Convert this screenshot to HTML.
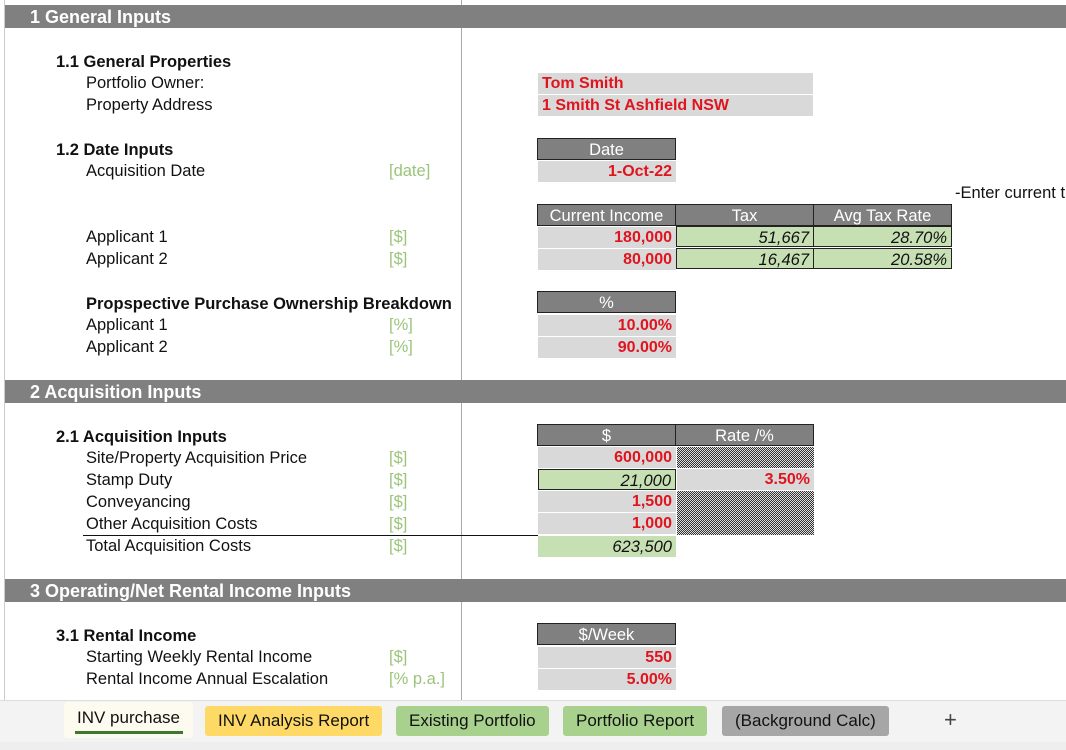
<!DOCTYPE html>
<html><head><meta charset="utf-8"><style>
body{margin:0;width:1066px;height:750px;overflow:hidden;background:#fff;font-family:"Liberation Sans",Arial,sans-serif;font-size:16.5px;color:#111;position:relative}
div{position:absolute;box-sizing:border-box;white-space:nowrap}
.hd{left:5px;width:1061px;height:23px;background:#808080;color:#fff;font-weight:bold;font-size:18px;line-height:24px;padding-left:25px}
.b{font-weight:bold;font-size:16.5px;margin-top:1px}
.g{color:#9bc47a}
.c{height:21px;line-height:22px;text-align:right;padding-right:4px;background:#d9d9d9}
.red{color:#e0141e;font-weight:bold;font-size:16px}
.gr{background:#c6e0b4;font-style:italic}
.th{height:22px;line-height:23px;background:#808080;color:#fff;text-align:center;border:1px solid #222}
.hatch{background:repeating-conic-gradient(#333 0 25%,#ddd 0 50%) 0 0/2px 2px}
.tab{top:706px;height:30px;line-height:30px;font-size:17px;padding:0 13px;border-radius:3px;font-family:"Liberation Sans Narrow","Liberation Sans",sans-serif}
</style></head><body>
<div style="left:461px;top:0;width:1px;height:700px;background:#aaa"></div>
<div style="left:4px;top:0;width:1px;height:700px;background:#ccc"></div>
<div class="hd" style="top:5px">1 General Inputs</div>
<div class="b" style="left:56px;top:52px">1.1 General Properties</div>
<div style="left:86px;top:74px">Portfolio Owner:</div>
<div style="left:86px;top:96px">Property Address</div>
<div class="c red" style="left:538px;top:73px;width:275px;text-align:left;padding-left:4px">Tom Smith</div>
<div class="c red" style="left:538px;top:95px;width:275px;text-align:left;padding-left:4px">1 Smith St Ashfield NSW</div>
<div class="b" style="left:56px;top:140px">1.2 Date Inputs</div>
<div style="left:86px;top:162px">Acquisition Date</div>
<div class="g" style="left:389px;top:162px">[date]</div>
<div class="th" style="left:537px;top:138px;width:139px">Date</div>
<div class="c red" style="left:538px;top:161px;width:138px">1-Oct-22</div>
<div style="left:955px;top:184px">-Enter current t</div>
<div class="th" style="left:537px;top:204px;width:139px">Current Income</div>
<div class="th" style="left:675px;top:204px;width:139px">Tax</div>
<div class="th" style="left:813px;top:204px;width:139px">Avg Tax Rate</div>
<div style="left:86px;top:228px">Applicant 1</div><div class="g" style="left:389px;top:228px">[$]</div>
<div style="left:86px;top:250px">Applicant 2</div><div class="g" style="left:389px;top:250px">[$]</div>
<div class="c red" style="left:538px;top:227px;width:138px">180,000</div>
<div class="c red" style="left:538px;top:249px;width:138px">80,000</div>
<div class="c gr" style="left:676px;top:226px;width:138px;border:1px solid #222">51,667</div>
<div class="c gr" style="left:676px;top:248px;width:138px;border:1px solid #222">16,467</div>
<div class="c gr" style="left:813px;top:226px;width:139px;border:1px solid #222">28.70%</div>
<div class="c gr" style="left:813px;top:248px;width:139px;border:1px solid #222">20.58%</div>
<div class="b" style="left:86px;top:294px">Propspective Purchase Ownership Breakdown</div>
<div class="th" style="left:537px;top:291px;width:139px">%</div>
<div style="left:86px;top:316px">Applicant 1</div><div class="g" style="left:389px;top:316px">[%]</div>
<div style="left:86px;top:338px">Applicant 2</div><div class="g" style="left:389px;top:338px">[%]</div>
<div class="c red" style="left:538px;top:315px;width:138px">10.00%</div>
<div class="c red" style="left:538px;top:337px;width:138px">90.00%</div>
<div class="hd" style="top:380px">2 Acquisition Inputs</div>
<div class="b" style="left:56px;top:427px">2.1 Acquisition Inputs</div>
<div class="th" style="left:537px;top:424px;width:139px">$</div>
<div class="th" style="left:675px;top:424px;width:139px">Rate /%</div>
<div style="left:86px;top:449px">Site/Property Acquisition Price</div><div class="g" style="left:389px;top:449px">[$]</div>
<div style="left:86px;top:471px">Stamp Duty</div><div class="g" style="left:389px;top:471px">[$]</div>
<div style="left:86px;top:493px">Conveyancing</div><div class="g" style="left:389px;top:493px">[$]</div>
<div style="left:86px;top:515px">Other Acquisition Costs</div><div class="g" style="left:389px;top:515px">[$]</div>
<div style="left:86px;top:537px">Total Acquisition Costs</div><div class="g" style="left:389px;top:537px">[$]</div>
<div style="left:83px;top:535px;width:455px;height:1px;background:#111"></div>
<div class="c red" style="left:538px;top:447px;width:138px">600,000</div>
<div class="c gr" style="left:538px;top:469px;width:138px;border:1px solid #222">21,000</div>
<div class="c red" style="left:538px;top:491px;width:138px">1,500</div>
<div class="c red" style="left:538px;top:513px;width:138px">1,000</div>
<div class="c gr" style="left:538px;top:536px;width:138px">623,500</div>
<div class="hatch" style="left:677px;top:447px;width:137px;height:21px"></div>
<div class="c red" style="left:677px;top:469px;width:137px">3.50%</div>
<div class="hatch" style="left:677px;top:491px;width:137px;height:44px"></div>
<div class="hd" style="top:579px">3 Operating/Net Rental Income Inputs</div>
<div class="b" style="left:56px;top:626px">3.1 Rental Income</div>
<div class="th" style="left:537px;top:623px;width:139px">$/Week</div>
<div style="left:86px;top:648px">Starting Weekly Rental Income</div><div class="g" style="left:389px;top:648px">[$]</div>
<div style="left:86px;top:670px">Rental Income Annual Escalation</div><div class="g" style="left:389px;top:670px">[% p.a.]</div>
<div class="c red" style="left:538px;top:647px;width:138px">550</div>
<div class="c red" style="left:538px;top:669px;width:138px">5.00%</div>
<div style="left:0;top:700px;width:1066px;height:50px;background:#f3f3f3;border-top:1px solid #ddd"></div>
<div style="left:0;top:742px;width:1066px;height:8px;background:#eee"></div>
<div class="tab" style="left:64px;top:702px;height:36px;background:#fdfaf0;line-height:32px">INV purchase<div style="left:11px;top:29px;width:108px;height:3px;background:#3a7a2a"></div></div>
<div class="tab" style="left:205px;background:#ffd966">INV Analysis Report</div>
<div class="tab" style="left:396px;background:#a9d18e">Existing Portfolio</div>
<div class="tab" style="left:563px;background:#a9d18e">Portfolio Report</div>
<div class="tab" style="left:722px;background:#a6a6a6">(Background Calc)</div>
<div style="left:944px;top:707px;font-size:22px;color:#444">+</div>
</body></html>
